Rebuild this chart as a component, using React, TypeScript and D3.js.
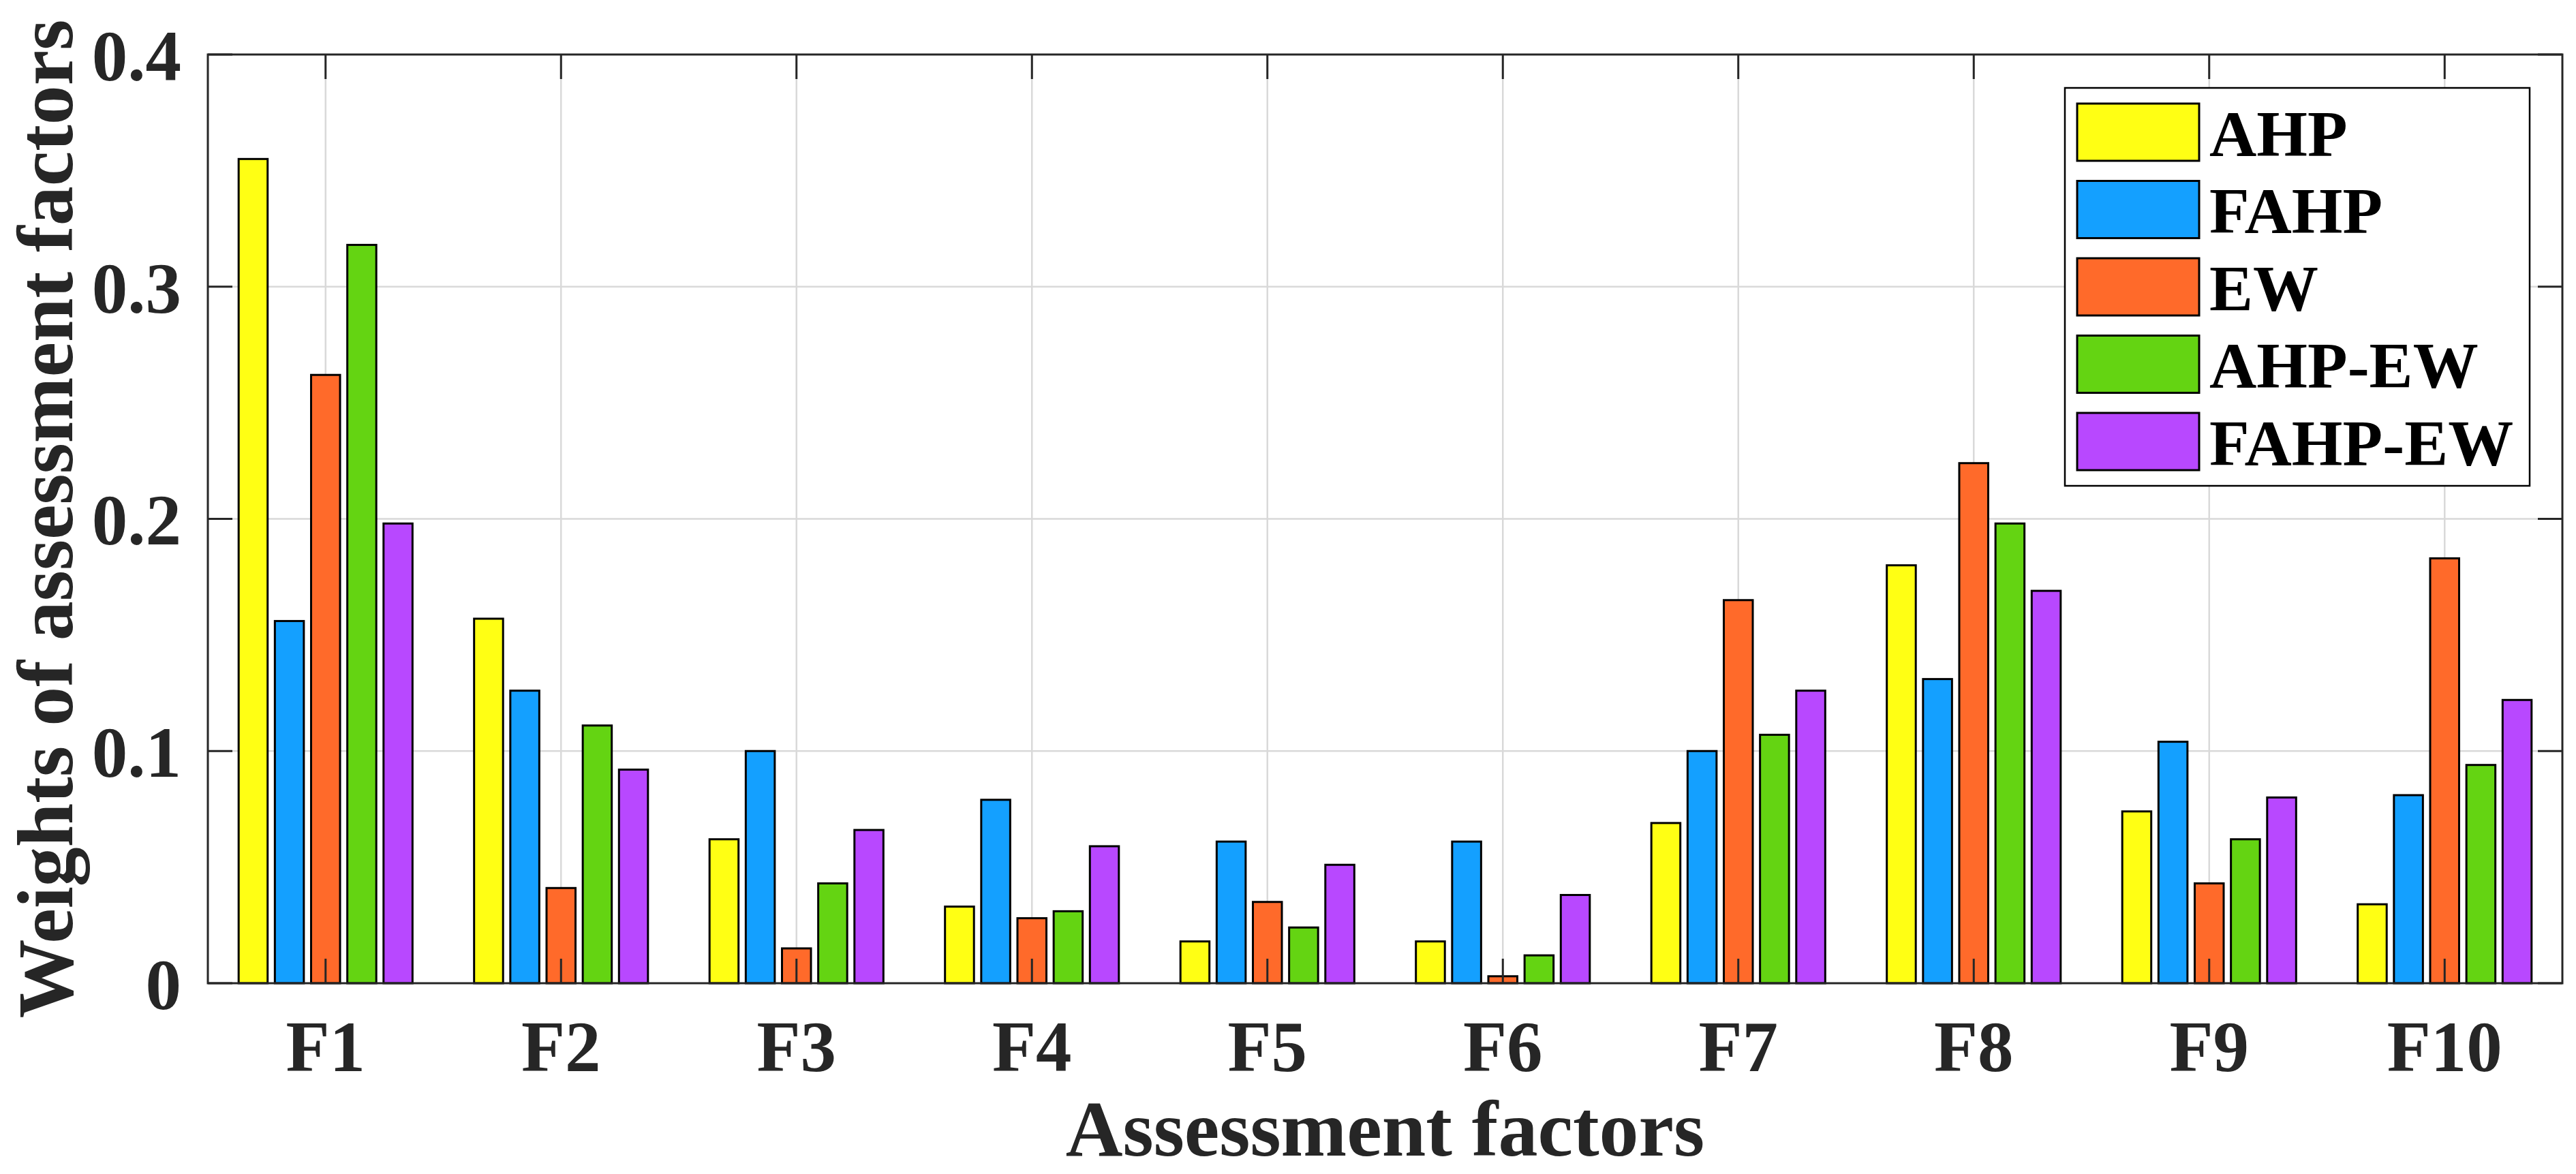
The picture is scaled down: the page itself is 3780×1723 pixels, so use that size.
import * as d3 from 'd3';
import { useEffect, useRef } from 'react';

// factors on the x axis and the five weighting methods
const factors = ['F1', 'F2', 'F3', 'F4', 'F5', 'F6', 'F7', 'F8', 'F9', 'F10'];
const methods = ['AHP', 'FAHP', 'EW', 'AHP-EW', 'FAHP-EW'];

// weights, one array per method
const ahp = [0.355, 0.157, 0.062, 0.033, 0.018, 0.018, 0.069, 0.18, 0.074, 0.034];
const fahp = [0.156, 0.126, 0.1, 0.079, 0.061, 0.061, 0.1, 0.131, 0.104, 0.081];
const ew = [0.262, 0.041, 0.015, 0.028, 0.035, 0.003, 0.165, 0.224, 0.043, 0.183];
const ahpEw = [0.318, 0.111, 0.043, 0.031, 0.024, 0.012, 0.107, 0.198, 0.062, 0.094];
const fahpEw = [0.198, 0.092, 0.066, 0.059, 0.051, 0.038, 0.126, 0.169, 0.08, 0.122];

const yTicks = [0, 0.1, 0.2, 0.3, 0.4];
const colors = ['#FFFF14', '#14A0FF', '#FF6A2A', '#64D412', '#B848FF'];

export default function App() {
  const svgRef = useRef(null);

  useEffect(() => {
    if (!svgRef.current) return;
    d3.select(svgRef.current).selectAll('*').remove();

    const W = 3780;
    const H = 1723;
    const left = 305;
    const right = 3760;
    const top = 80;
    const bottom = 1443;
    const font = '"Liberation Serif", "Times New Roman", serif';
    const ink = '#262626';

    const series = [ahp, fahp, ew, ahpEw, fahpEw];
    const rows = factors.map((f, i) => {
      const r: any = { factor: f };
      methods.forEach((m, j) => (r[m] = series[j][i]));
      return r;
    });

    const svg = d3
      .select(svgRef.current)
      .attr('width', W)
      .attr('height', H)
      .attr('viewBox', `0 0 ${W} ${H}`);

    svg.append('rect').attr('width', W).attr('height', H).attr('fill', '#fff');

    const x0 = d3.scaleBand().domain(factors).range([left, right]).padding(0);
    // matlab grouped bar: group takes n/(n+1.5) of the slot
    const groupW = x0.bandwidth() * (5 / 6.5);
    const x1 = d3
      .scaleBand()
      .domain(methods)
      .range([0, groupW])
      .paddingInner(0.2)
      .paddingOuter(0.1);
    const y = d3.scaleLinear().domain([0, 0.4]).range([bottom, top]);
    const color = d3.scaleOrdinal<string, string>().domain(methods).range(colors);
    const cx = (f: string) => (x0(f) as number) + x0.bandwidth() / 2;

    // grid
    const grid = svg.append('g').attr('stroke', '#d9d9d9').attr('stroke-width', 2.5);
    grid
      .selectAll('line.gx')
      .data(factors)
      .join('line')
      .attr('x1', (d) => cx(d))
      .attr('x2', (d) => cx(d))
      .attr('y1', top)
      .attr('y2', bottom);
    grid
      .selectAll('line.gy')
      .data(yTicks.slice(1, -1))
      .join('line')
      .attr('x1', left)
      .attr('x2', right)
      .attr('y1', (d) => y(d))
      .attr('y2', (d) => y(d));

    // bars
    svg
      .append('g')
      .selectAll('g')
      .data(rows)
      .join('g')
      .attr('transform', (d) => `translate(${cx(d.factor) - groupW / 2},0)`)
      .selectAll('rect')
      .data((d) => methods.map((m) => ({ key: m, value: d[m] })))
      .join('rect')
      .attr('x', (d) => x1(d.key) as number)
      .attr('width', x1.bandwidth())
      .attr('y', (d) => y(d.value))
      .attr('height', (d) => y(0) - y(d.value))
      .attr('fill', (d) => color(d.key))
      .attr('stroke', '#000')
      .attr('stroke-width', 3);

    // axes box and ticks
    const tickLen = 36;
    const ax = svg.append('g').attr('stroke', ink).attr('stroke-width', 3);
    factors.forEach((f) => {
      ax.append('line').attr('x1', cx(f)).attr('x2', cx(f)).attr('y1', bottom).attr('y2', bottom - tickLen);
      ax.append('line').attr('x1', cx(f)).attr('x2', cx(f)).attr('y1', top).attr('y2', top + tickLen);
    });
    yTicks.forEach((t) => {
      ax.append('line').attr('x1', left).attr('x2', left + tickLen).attr('y1', y(t)).attr('y2', y(t));
      ax.append('line').attr('x1', right).attr('x2', right - tickLen).attr('y1', y(t)).attr('y2', y(t));
    });
    ax.append('rect')
      .attr('x', left)
      .attr('y', top)
      .attr('width', right - left)
      .attr('height', bottom - top)
      .attr('fill', 'none');

    // tick labels
    svg
      .append('g')
      .selectAll('text')
      .data(factors)
      .join('text')
      .attr('x', (d) => cx(d))
      .attr('y', 1572)
      .attr('text-anchor', 'middle')
      .attr('font-family', font)
      .attr('font-weight', 'bold')
      .attr('font-size', 105)
      .attr('fill', ink)
      .text((d) => d);

    svg
      .append('g')
      .selectAll('text')
      .data(yTicks)
      .join('text')
      .attr('x', 266)
      .attr('y', (d) => y(d))
      .attr('dy', '0.36em')
      .attr('text-anchor', 'end')
      .attr('font-family', font)
      .attr('font-weight', 'bold')
      .attr('font-size', 105)
      .attr('fill', ink)
      .text((d) => (d === 0 ? '0' : d.toFixed(1)));

    // axis titles
    svg
      .append('text')
      .attr('x', (left + right) / 2)
      .attr('y', 1696)
      .attr('text-anchor', 'middle')
      .attr('font-family', font)
      .attr('font-weight', 'bold')
      .attr('font-size', 116)
      .attr('fill', ink)
      .text('Assessment factors');

    svg
      .append('text')
      .attr('transform', `translate(106,${(top + bottom) / 2}) rotate(-90)`)
      .attr('text-anchor', 'middle')
      .attr('font-family', font)
      .attr('font-weight', 'bold')
      .attr('font-size', 116)
      .attr('fill', ink)
      .text('Weights of assessment factors');

    // legend
    const lg = svg.append('g');
    lg.append('rect')
      .attr('x', 3030)
      .attr('y', 129)
      .attr('width', 682)
      .attr('height', 584)
      .attr('fill', '#fff')
      .attr('stroke', '#000')
      .attr('stroke-width', 2.5);
    const item = lg
      .selectAll('g')
      .data(methods)
      .join('g')
      .attr('transform', (_, i) => `translate(0,${194 + i * 113.5})`);
    item
      .append('rect')
      .attr('x', 3048)
      .attr('y', -42)
      .attr('width', 179)
      .attr('height', 84)
      .attr('fill', (d) => color(d))
      .attr('stroke', '#000')
      .attr('stroke-width', 3);
    item
      .append('text')
      .attr('x', 3242)
      .attr('y', 0)
      .attr('dy', '0.36em')
      .attr('font-family', font)
      .attr('font-weight', 'bold')
      .attr('font-size', 96)
      .attr('fill', '#000')
      .text((d) => d);
  }, []);

  return (
    <svg ref={svgRef} style={{ position: 'absolute', left: 0, top: 0, display: 'block' }} />
  );
}
